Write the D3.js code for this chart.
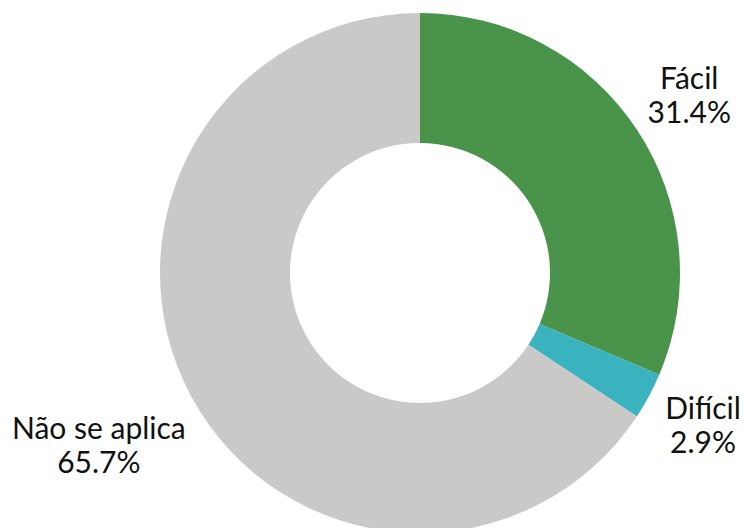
<!DOCTYPE html>
<html lang="pt">
<head>
  <meta charset="UTF-8">
  <title>Donut</title>
  <script src="https://d3js.org/d3.v7.min.js"></script>
  <style>
    body { margin: 0; background: #fff; overflow: hidden; }
    svg { display: block; }
    .label { font-family: Lato, sans-serif; font-size: 30px; fill: #111; }
  </style>
</head>
<body>
  <svg id="chart"></svg>
  <script>
    const categories = ["Fácil", "Difícil", "Não se aplica"];
    const values = [31.4, 2.9, 65.7];
    const colors = ["#4a934a", "#3ab3bf", "#c9cac8"];

    const width = 744, height = 528;
    const cx = 420, cy = 273;
    const outer = 260, inner = 130;
    const lineGap = 34;

    const svg = d3.select("#chart").attr("width", width).attr("height", height);
    const g = svg.append("g").attr("transform", `translate(${cx},${cy})`);

    const data = categories.map((c, i) => ({ name: c, value: values[i], color: colors[i] }));

    const pie = d3.pie().sort(null).value(d => d.value);
    const arc = d3.arc().innerRadius(inner).outerRadius(outer);
    const arcs = pie(data);

    g.selectAll("path.slice")
      .data(arcs)
      .enter().append("path")
      .attr("class", "slice")
      .attr("d", arc)
      .attr("fill", d => d.data.color);

    // label block centred on the slice's mid angle, pushed out by its half width
    const baseR = outer * 1.108;
    arcs.forEach(d => {
      const a = (d.startAngle + d.endAngle) / 2;
      const t = g.append("text").attr("class", "label").attr("text-anchor", "middle");
      t.append("tspan").attr("x", 0).attr("dy", 0).text(d.data.name);
      t.append("tspan").attr("x", 0).attr("dy", lineGap).text(d3.format(".1f")(d.data.value) + "%");
      const b = t.node().getBBox();
      const r = baseR + Math.abs(Math.sin(a)) * b.width / 2;
      const lx = Math.sin(a) * r, ly = -Math.cos(a) * r;
      const midY = (lineGap - 0.72 * 30) / 2;
      t.attr("transform", `translate(${lx},${ly - midY})`);
    });
  </script>
</body>
</html>
